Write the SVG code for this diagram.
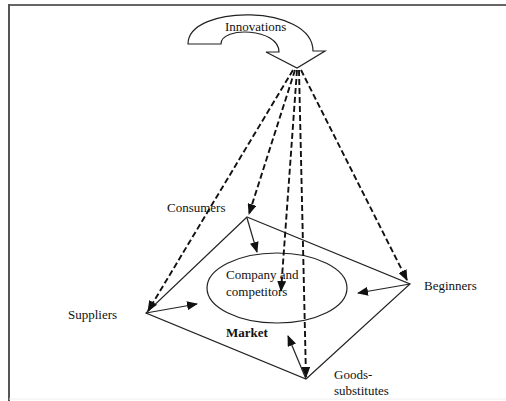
<svg xmlns="http://www.w3.org/2000/svg" width="506" height="401" viewBox="0 0 506 401">
<style>
text{font-family:"Liberation Serif","Times New Roman",serif;font-size:13px;fill:#111}
.solid{stroke:#222;stroke-width:1.2;fill:none}
.dash{stroke:#111;stroke-width:1.9;stroke-dasharray:6 3;fill:none}
</style>
<defs>
<marker id="ah" markerWidth="11" markerHeight="9" refX="10" refY="4.5" orient="auto" markerUnits="userSpaceOnUse">
<path d="M0,0 L11,4.5 L0,9 Z" fill="#111"/>
</marker>
</defs>
<rect width="506" height="401" fill="#fff"/>
<g id="frame">
<line x1="8" y1="5" x2="506" y2="5" stroke="#666" stroke-width="2"/>
<line x1="9" y1="4" x2="9" y2="401" stroke="#555" stroke-width="2"/>
<line x1="9" y1="399" x2="506" y2="399" stroke="#eee" stroke-width="1"/>
</g>
<g id="innovations">
<path d="M188,44 C188,4 313,4 313,51 L325,51 L297,68 L266,52 L279,52 C279,28 221,26 221,44 Z" fill="#fff" stroke="#222" stroke-width="1.2"/>
<text x="225" y="31">Innovations</text>
</g>
<g id="market">
<polygon points="247,217 410,284 306,379 146,313" class="solid"/>
<text x="226" y="337" font-weight="bold">Market</text>
</g>
<g id="company">
<ellipse cx="277" cy="288" rx="70" ry="35" class="solid"/>
<text x="226" y="279">Company and</text>
<text x="226" y="296">competitors</text>
</g>
<g id="consumers"><text x="167" y="212">Consumers</text></g>
<g id="beginners"><text x="424" y="290">Beginners</text></g>
<g id="suppliers"><text x="68" y="319">Suppliers</text></g>
<g id="goods">
<text x="334" y="379" font-size="12">Goods-</text>
<text x="334" y="395" font-size="12">substitutes</text>
</g>
<g id="connectors">
<line x1="293" y1="70" x2="148" y2="311" class="dash" marker-end="url(#ah)"/>
<line x1="295" y1="70" x2="249" y2="214" class="dash" marker-end="url(#ah)"/>
<line x1="297" y1="70" x2="281" y2="291" class="dash" marker-end="url(#ah)"/>
<line x1="299" y1="70" x2="306" y2="377" class="dash" marker-end="url(#ah)"/>
<line x1="301" y1="70" x2="407" y2="280" class="dash" marker-end="url(#ah)"/>
<line x1="247" y1="218" x2="257" y2="252" class="solid" marker-end="url(#ah)"/>
<line x1="146" y1="313" x2="197" y2="304" class="solid" marker-end="url(#ah)"/>
<line x1="410" y1="284" x2="358" y2="293" class="solid" marker-end="url(#ah)"/>
<line x1="306" y1="379" x2="288" y2="336" class="solid" marker-end="url(#ah)"/>
</g>
</svg>
